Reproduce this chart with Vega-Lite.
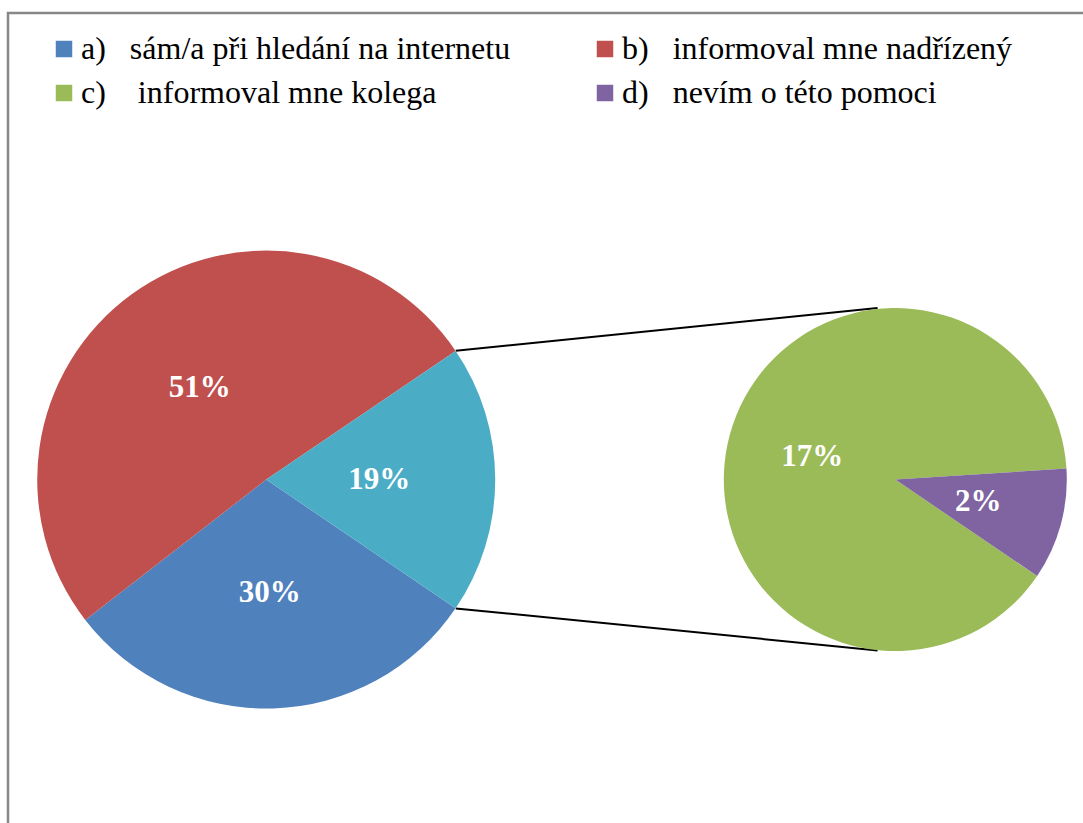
{
  "$schema": "https://vega.github.io/schema/vega-lite/v6.json",
  "width": 1083,
  "height": 823,
  "autosize": {"type": "fit", "contains": "padding"},
  "padding": {"left": 8, "top": 13, "right": -4, "bottom": -4},
  "background": "white",
  "config": {
    "font": "Liberation Serif",
    "view": {"stroke": "#878787", "strokeWidth": 2.5},
    "legend": {
      "labelFont": "Liberation Serif",
      "labelFontSize": 32,
      "labelColor": "black",
      "labelLimit": 1000,
      "labelOffset": 1,
      "symbolType": "square",
      "symbolSize": 272,
      "symbolStrokeWidth": 0,
      "padding": 0
    }
  },
  "datasets": {
    "hlavni": [
      {"key": "a", "value": 0.30},
      {"key": "b", "value": 0.51},
      {"key": "other", "value": 0.19}
    ],
    "detail": [
      {"key": "c", "value": 0.17},
      {"key": "d", "value": 0.02}
    ],
    "spojnice": [
      {"x": 0.827, "y": 0.562, "x2": 2.667, "y2": 0.748},
      {"x": 0.827, "y": -0.562, "x2": 2.667, "y2": -0.745}
    ]
  },
  "layer": [
    {
      "data": {"name": "spojnice"},
      "mark": {"type": "rule", "color": "black", "strokeWidth": 2},
      "encoding": {
        "x": {"field": "x", "type": "quantitative", "scale": {"domain": [-1.1266, 3.5808], "nice": false, "zero": false}, "axis": null},
        "y": {"field": "y", "type": "quantitative", "scale": {"domain": [-1.5153, 2.0349], "nice": false, "zero": false}, "axis": null},
        "x2": {"field": "x2"},
        "y2": {"field": "y2"}
      }
    },
    {
      "data": {"name": "hlavni"},
      "mark": {"type": "arc", "radius": 229},
      "encoding": {
        "x": {"datum": 0, "type": "quantitative"},
        "y": {"datum": 0, "type": "quantitative"},
        "theta": {"field": "value", "type": "quantitative", "stack": true, "scale": {"range": [2.168, 8.451]}},
        "order": {"field": "key", "type": "ordinal", "sort": "ascending"},
        "color": {
          "field": "key",
          "type": "nominal",
          "scale": {
            "domain": ["a", "b", "c", "d", "other"],
            "range": ["#4F81BD", "#C0504D", "#9BBB59", "#8064A2", "#4BACC6"]
          },
          "legend": {
            "orient": "none",
            "direction": "horizontal",
            "legendX": 40,
            "legendY": 20,
            "columns": 2,
            "columnPadding": 78,
            "rowPadding": 12,
            "title": null,
            "labelFont": "Liberation Serif",
            "values": ["a", "b", "c", "d"],
            "labelExpr": "datum.value == 'a' ? 'a)\u00a0\u00a0\u00a0sám/a při hledání na internetu' : datum.value == 'b' ? 'b)\u00a0\u00a0\u00a0informoval mne nadřízený' : datum.value == 'c' ? 'c)\u00a0\u00a0\u00a0\u00a0informoval mne kolega' : 'd)\u00a0\u00a0\u00a0nevím o této pomoci'"
          }
        }
      }
    },
    {
      "data": {"name": "hlavni"},
      "mark": {"type": "text", "radius": 113, "fontSize": 31, "fontWeight": "bold", "font": "Liberation Serif", "color": "white"},
      "encoding": {
        "x": {"datum": 0, "type": "quantitative"},
        "y": {"datum": 0, "type": "quantitative"},
        "theta": {"field": "value", "type": "quantitative", "stack": true, "scale": {"range": [2.168, 8.451]}},
        "order": {"field": "key", "type": "ordinal", "sort": "ascending"},
        "detail": {"field": "key", "type": "nominal"},
        "text": {"field": "value", "type": "quantitative", "format": ".0%"}
      }
    },
    {
      "data": {"name": "detail"},
      "mark": {"type": "arc", "radius": 171.5},
      "encoding": {
        "x": {"datum": 2.7445, "type": "quantitative"},
        "y": {"datum": 0, "type": "quantitative"},
        "theta": {"field": "value", "type": "quantitative", "stack": true, "scale": {"range": [2.168, 8.451]}},
        "order": {"field": "key", "type": "ordinal", "sort": "ascending"},
        "color": {"field": "key", "type": "nominal"}
      }
    },
    {
      "data": {"name": "detail"},
      "mark": {"type": "text", "radius": 86, "fontSize": 31, "fontWeight": "bold", "font": "Liberation Serif", "color": "white"},
      "encoding": {
        "x": {"datum": 2.7445, "type": "quantitative"},
        "y": {"datum": 0, "type": "quantitative"},
        "theta": {"field": "value", "type": "quantitative", "stack": true, "scale": {"range": [2.168, 8.451]}},
        "order": {"field": "key", "type": "ordinal", "sort": "ascending"},
        "detail": {"field": "key", "type": "nominal"},
        "text": {"field": "value", "type": "quantitative", "format": ".0%"}
      }
    }
  ],
  "resolve": {"scale": {"theta": "independent"}}
}
